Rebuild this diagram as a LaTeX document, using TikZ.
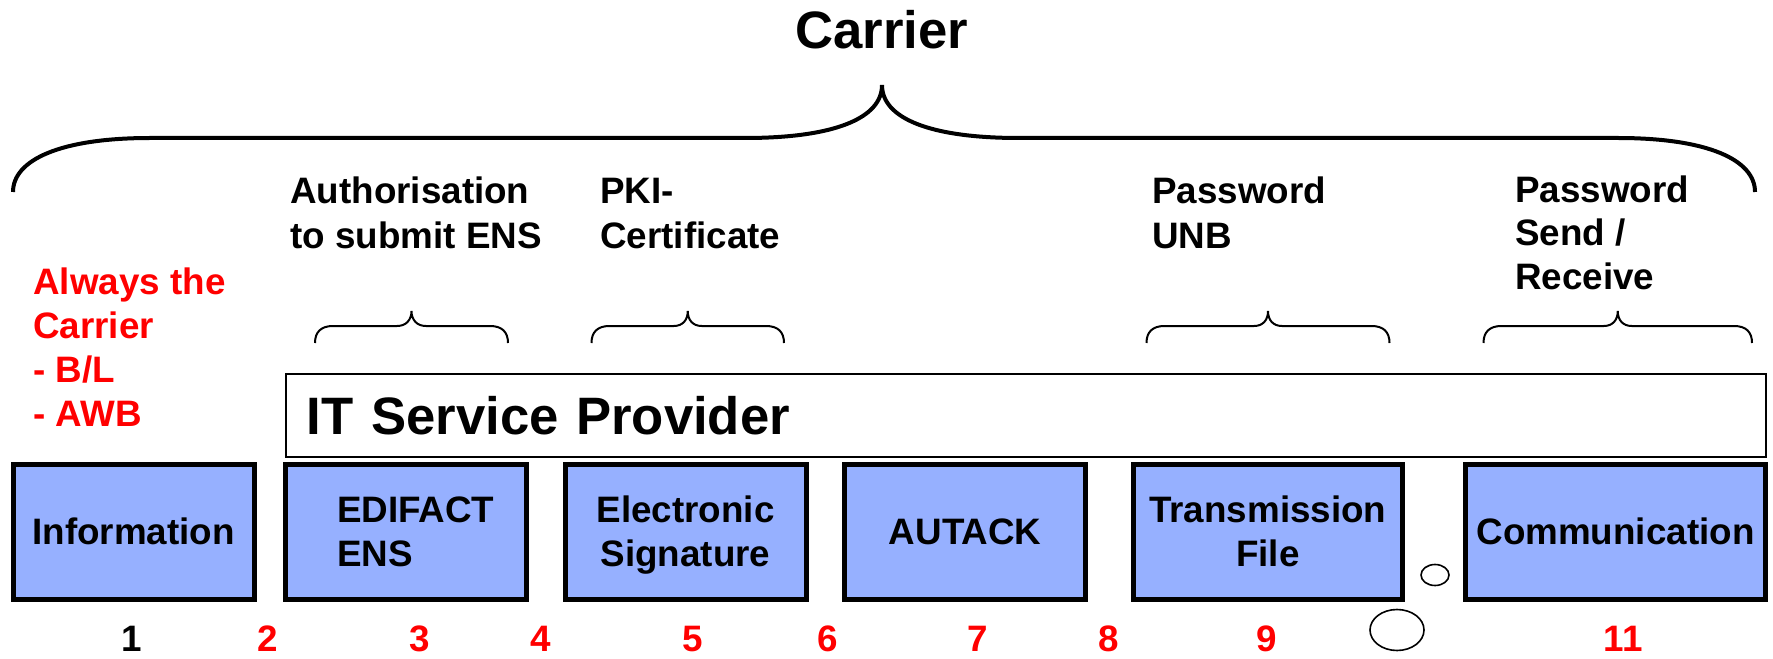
\documentclass[tikz,border=0pt]{standalone}
\usepackage{fontspec}
\setmainfont{Liberation Sans}
\definecolor{stagefill}{RGB}{150,176,255}
\definecolor{tagred}{RGB}{255,0,0}

\begin{document}
\begin{tikzpicture}[x=0.75pt,y=0.75pt,
  txt/.style={font=\bfseries\fontsize{27.6}{33}\selectfont, inner sep=0pt, align=left},
  big/.style={font=\bfseries\fontsize{39.5}{47}\selectfont, inner sep=0pt},
  stage/.style={draw, line width=3.75pt, fill=stagefill, minimum width=180.75pt,
    minimum height=101.25pt, inner sep=0pt, align=center, text depth=0pt,
    font=\bfseries\fontsize{27.6}{33}\selectfont},
  num/.style={txt, anchor=base, text=tagred},
  bracebig/.style={line width=3pt},
  bracesmall/.style={line width=1.5pt}]
\useasboundingbox (0,0) rectangle (1773,-659);
% top brace
\node [big, anchor=base] (carrier) at (882,-49) {Carrier};
\draw [bracebig] (13,-192) .. controls (13,-160) and (60,-138) .. (150,-138) -- (745,-138)
  .. controls (835,-138) and (882,-118) .. (882,-85)
  .. controls (882,-118) and (929,-138) .. (1019,-138) -- (1618,-138)
  .. controls (1708,-138) and (1755,-160) .. (1755,-192);
% labels (base = last line)
\node [txt, anchor=base west] (auth) at (290,-248) {Authorisation\\to submit ENS};
\node [txt, anchor=base west] (pki) at (600,-248) {PKI-\\Certificate};
\node [txt, anchor=base west] (pwunb) at (1152,-248) {Password\\UNB};
\node [txt, anchor=base west] (pwsr) at (1515,-290) {Password\\Send /\\Receive};
\node [txt, anchor=base west, text=tagred] (always) at (33,-426) {Always the\\Carrier\\- B/L\\- AWB};
% small braces
\draw [bracesmall] (315,-343) .. controls (315,-332) and (321,-326) .. (333,-326) -- (397,-326)
  .. controls (406,-326) and (411.5,-320) .. (411.5,-311)
  .. controls (411.5,-320) and (417,-326) .. (426,-326) -- (490,-326)
  .. controls (502,-326) and (508,-332) .. (508,-343);
\draw [bracesmall] (591.5,-343) .. controls (591.5,-332) and (597.5,-326) .. (609.5,-326) -- (673.75,-326)
  .. controls (682.75,-326) and (687.75,-320) .. (687.75,-311)
  .. controls (687.75,-320) and (692.75,-326) .. (701.75,-326) -- (766,-326)
  .. controls (778,-326) and (784,-332) .. (784,-343);
\draw [bracesmall] (1146.5,-343) .. controls (1146.5,-332) and (1152.5,-326) .. (1164.5,-326) -- (1254,-326)
  .. controls (1263,-326) and (1268,-320) .. (1268,-311)
  .. controls (1268,-320) and (1273,-326) .. (1282,-326) -- (1371.5,-326)
  .. controls (1383.5,-326) and (1389.5,-332) .. (1389.5,-343);
\draw [bracesmall] (1483.5,-343) .. controls (1483.5,-332) and (1489.5,-326) .. (1501.5,-326) -- (1603.75,-326)
  .. controls (1612.75,-326) and (1617.75,-320) .. (1617.75,-311)
  .. controls (1617.75,-320) and (1622.75,-326) .. (1631.75,-326) -- (1734,-326)
  .. controls (1746,-326) and (1752,-332) .. (1752,-343);
% provider bar
\node [draw, line width=1.5pt, big, minimum width=1109.6pt, minimum height=62.25pt,
  text width=1078.9pt, inner xsep=15.4pt, align=left] (itsp) at (1026.25,-415.5) {IT Service Provider};
% stages
\node [stage] (info) at (133.5,-531.5) {Information};
\node [stage, minimum width=180.4pt, align=left] (edi) at (405.75,-531.5) {\hspace*{15pt}EDIFACT\\\hspace*{15pt}ENS};
\node [stage] (esig) at (685.5,-531.5) {Electronic\\Signature};
\node [stage] (autack) at (965.25,-531.5) {AUTACK};
\node [stage, minimum width=202.1pt] (trans) at (1267.75,-531.5) {Transmission\\File};
\node [stage, minimum width=225.4pt] (comm) at (1615.5,-531.5) {Communication};
\draw [line width=1.2pt] (1435,-575) ellipse [x radius=14, y radius=10.5];
\draw [line width=1.2pt] (1397,-630) ellipse [x radius=27, y radius=20.5];
% numbers
\node [num, text=black] (n1) at (132,-651.7) {1};
\node [num] (n2) at (268,-651.7) {2};
\node [num] (n3) at (419.6,-651.7) {3};
\node [num] (n4) at (541,-651.7) {4};
\node [num] (n5) at (693,-651.7) {5};
\node [num] (n6) at (828,-651.7) {6};
\node [num] (n7) at (978,-651.7) {7};
\node [num] (n8) at (1109,-651.7) {8};
\node [num] (n9) at (1267,-651.7) {9};
\node [num] (n11) at (1623,-651.7) {11};
\end{tikzpicture}
\end{document}
